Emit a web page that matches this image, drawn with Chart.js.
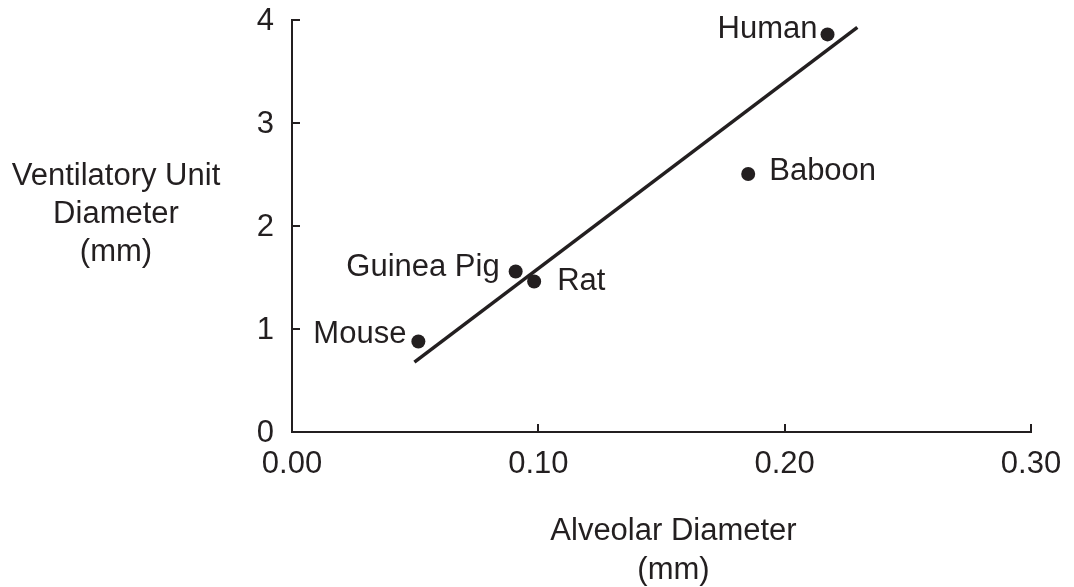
<!DOCTYPE html>
<html>
<head>
<meta charset="utf-8">
<style>
  html, body { margin: 0; padding: 0; background: #ffffff; }
  #wrap { width: 1074px; height: 587px; position: relative; }
</style>
<script src="https://cdn.jsdelivr.net/npm/chart.js@4.4.1/dist/chart.umd.min.js"></script>
</head>
<body>
<div id="wrap"><canvas id="c" width="1074" height="587"></canvas></div>
<script>
// Species measured
const species = ['Human', 'Baboon', 'Guinea Pig', 'Rat', 'Mouse'];
// Alveolar diameter (mm)
const alveolarDiameter = [0.2174, 0.1852, 0.0908, 0.0983, 0.0513];
// Ventilatory unit diameter (mm)
const ventilatoryDiameter = [3.86, 2.505, 1.558, 1.461, 0.879];

// Fitted regression line endpoints
const fitX = [0.0497, 0.2295];
const fitY = [0.679, 3.928];

// Axis ticks
const xTicks = [0, 0.1, 0.2, 0.3];
const xTickLabels = ['0.00', '0.10', '0.20', '0.30'];
const yTicks = [0, 1, 2, 3, 4];
const yTickLabels = ['0', '1', '2', '3', '4'];

// Axis titles
const yTitle = ['Ventilatory Unit', 'Diameter', '(mm)'];
const xTitle = ['Alveolar Diameter', '(mm)'];

// Where each species name sits relative to its dot: side, dx, dy
const labelPlacement = {
  'Human':      { align: 'right', dx: -10, dy: -5 },
  'Baboon':     { align: 'left',  dx: 21,  dy: -3 },
  'Guinea Pig': { align: 'right', dx: -16, dy: -4 },
  'Rat':        { align: 'left',  dx: 23,  dy: 0 },
  'Mouse':      { align: 'right', dx: -12, dy: -7 }
};

const INK = '#231f20';
const FONT = '"Liberation Sans", Arial, Helvetica, sans-serif';
const FONT_SIZE = 31;

const points = species.map((s, i) => ({ x: alveolarDiameter[i], y: ventilatoryDiameter[i], name: s }));
const fitLine = fitX.map((x, i) => ({ x: x, y: fitY[i] }));

// Keep the plot frame fixed by ignoring tick-label overflow padding
function clearScalePadding(scale) {
  scale.paddingTop = 0;
  scale.paddingBottom = 0;
  scale.paddingLeft = 0;
  scale.paddingRight = 0;
}

// Draws inward tick marks, species labels and horizontal axis titles
const decorations = {
  id: 'decorations',
  afterDraw(chart) {
    const ctx = chart.ctx;
    const xs = chart.scales.x, ys = chart.scales.y;
    const area = chart.chartArea;
    ctx.save();
    ctx.strokeStyle = INK;
    ctx.lineWidth = 2;
    const tickLen = 8;
    ctx.beginPath();
    xTicks.forEach(v => {
      const px = Math.round(xs.getPixelForValue(v));
      ctx.moveTo(px, area.bottom);
      ctx.lineTo(px, area.bottom - tickLen);
    });
    yTicks.forEach(v => {
      const py = Math.round(ys.getPixelForValue(v));
      ctx.moveTo(area.left, py);
      ctx.lineTo(area.left + tickLen, py);
    });
    ctx.stroke();

    ctx.fillStyle = INK;
    ctx.font = FONT_SIZE + 'px ' + FONT;
    ctx.textBaseline = 'middle';
    points.forEach(p => {
      const pl = labelPlacement[p.name];
      const px = xs.getPixelForValue(p.x);
      const py = ys.getPixelForValue(p.y);
      ctx.textAlign = pl.align;
      ctx.fillText(p.name, px + pl.dx, py + pl.dy);
    });

    // Vertical axis title, written horizontally to the left
    ctx.textAlign = 'center';
    const yMid = (area.top + area.bottom) / 2;
    const lh = 38;
    yTitle.forEach((t, i) => {
      ctx.fillText(t, 116, yMid - 12 + (i - 1) * lh);
    });
    // Horizontal axis title below the tick labels
    const xMid = (area.left + area.right) / 2 + 12;
    xTitle.forEach((t, i) => {
      ctx.fillText(t, xMid, 531 + i * 39);
    });
    ctx.restore();
  }
};

new Chart(document.getElementById('c'), {
  type: 'scatter',
  data: {
    datasets: [
      {
        type: 'line',
        data: fitLine,
        borderColor: INK,
        borderWidth: 3.5,
        pointRadius: 0,
        fill: false,
        tension: 0,
        order: 2
      },
      {
        type: 'scatter',
        data: points,
        backgroundColor: INK,
        borderColor: INK,
        borderWidth: 0,
        pointRadius: 7,
        order: 1
      }
    ]
  },
  options: {
    responsive: false,
    animation: false,
    devicePixelRatio: 1,
    layout: { padding: { left: 0, right: 43, top: 20, bottom: 0 } },
    plugins: {
      legend: { display: false },
      tooltip: { enabled: false },
      title: { display: false }
    },
    scales: {
      x: {
        type: 'linear',
        min: 0,
        max: 0.3,
        afterFit(scale) { scale.height = 155; clearScalePadding(scale); },
        afterBuildTicks(scale) { scale.ticks = xTicks.map(v => ({ value: v })); },
        grid: { display: false, drawTicks: false },
        border: { display: true, color: INK, width: 2 },
        ticks: {
          padding: 14,
          color: INK,
          font: { family: FONT, size: FONT_SIZE },
          maxRotation: 0,
          callback: (v) => xTickLabels[xTicks.indexOf(v)] ?? ''
        }
      },
      y: {
        type: 'linear',
        min: 0,
        max: 4,
        afterFit(scale) { scale.width = 292; clearScalePadding(scale); },
        afterBuildTicks(scale) { scale.ticks = yTicks.map(v => ({ value: v })); },
        grid: { display: false, drawTicks: false },
        border: { display: true, color: INK, width: 2 },
        ticks: {
          padding: 18,
          labelOffset: 1,
          color: INK,
          font: { family: FONT, size: FONT_SIZE },
          callback: (v) => yTickLabels[yTicks.indexOf(v)] ?? ''
        }
      }
    }
  },
  plugins: [decorations]
});
</script>
</body>
</html>
